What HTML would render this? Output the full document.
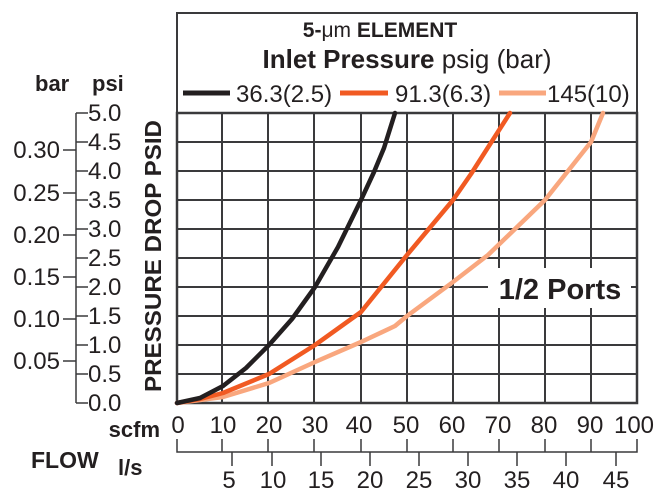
<!DOCTYPE html><html><head><style>body{margin:0;background:#fff}svg{display:block}text{font-family:"Liberation Sans",Arial,sans-serif;fill:#231f20}</style></head><body>
<svg width="666" height="502" viewBox="0 0 666 502">
<rect x="177" y="13" width="460" height="100" fill="none" stroke="#3a3a3c" stroke-width="2"/>
<text x="380" y="37" font-size="21" text-anchor="middle"><tspan font-weight="bold">5-</tspan>μm <tspan font-weight="bold">ELEMENT</tspan></text>
<text x="407" y="68" font-size="26" text-anchor="middle"><tspan font-weight="bold">Inlet Pressure</tspan> psig (bar)</text>
<line x1="183" y1="93" x2="230" y2="93" stroke="#231f20" stroke-width="5"/>
<text x="236" y="102" font-size="24">36.3(2.5)</text>
<line x1="340" y1="93" x2="388" y2="93" stroke="#f15a22" stroke-width="5"/>
<text x="395" y="102" font-size="24">91.3(6.3)</text>
<line x1="499" y1="93" x2="546" y2="93" stroke="#f9a77e" stroke-width="5"/>
<text x="547" y="102" font-size="24">145(10)</text>
<g stroke="#3a3a3c" stroke-width="2" fill="none">
<path d="M222 113V403M268 113V403M314 113V403M361 113V403M407 113V403M453 113V403M499 113V403M545 113V403M591 113V403"/>
<path d="M177 142H637M177 171H637M177 200H637M177 229H637M177 258H637M177 287H637M177 316H637M177 345H637M177 374H637"/>
<rect x="177" y="113" width="460" height="290" stroke-width="2.5"/>
</g>
<rect x="488" y="268" width="143" height="40" fill="#fff"/>
<text x="560" y="299" font-size="29" font-weight="bold" text-anchor="middle">1/2 Ports</text>
<g fill="none" stroke-width="4.5" stroke-linejoin="round" stroke-linecap="round">
<polyline stroke="#f9a77e" points="177,403 200,400 223,397 269,383 315,362 361,342 395,326 407,316 453,282 488,255 545,200 591,142 603,113"/>
<polyline stroke="#f15a22" points="177,403 200,399 223,393 269,374 315,345 361,312 407,255 453,200 471,174 510,113"/>
<polyline stroke="#231f20" points="177,403 200,398 223,386 246,368 269,345 292,319 315,287 338,247 361,200 374,172 384,148 395,113"/>
</g>
<text transform="translate(161,392) rotate(-90)" font-size="23.5" font-weight="bold" textLength="272" lengthAdjust="spacingAndGlyphs">PRESSURE DROP PSID</text>
<text x="35" y="91" font-size="22" font-weight="bold">bar</text>
<text x="92" y="91" font-size="22" font-weight="bold">psi</text>
<g stroke="#3a3a3c" stroke-width="1.5" fill="none">
<path d="M76 113V403M76 113H88M76 142H88M76 171H88M76 200H88M76 229H88M76 258H88M76 287H88M76 316H88M76 345H88M76 374H88M76 403H88"/>
<path d="M63 150H76M63 193H76M63 235H76M63 277H76M63 319H76M63 361H76"/>
</g>
<g font-size="24">
<text x="88" y="121">5.0</text><text x="88" y="150">4.5</text><text x="88" y="179">4.0</text><text x="88" y="208">3.5</text><text x="88" y="237">3.0</text><text x="88" y="266">2.5</text><text x="88" y="295">2.0</text><text x="88" y="324">1.5</text><text x="88" y="353">1.0</text><text x="88" y="382">0.5</text><text x="88" y="411">0.0</text>
</g>
<g font-size="24" text-anchor="end">
<text x="60" y="158">0.30</text><text x="60" y="201">0.25</text><text x="60" y="243">0.20</text><text x="60" y="285">0.15</text><text x="60" y="327">0.10</text><text x="60" y="369">0.05</text>
</g>
<text x="160" y="437" font-size="22" font-weight="bold" text-anchor="end">scfm</text>
<text x="31" y="468" font-size="23" font-weight="bold">FLOW</text>
<text x="118" y="475" font-size="22" font-weight="bold">l/s</text>
<g font-size="24" text-anchor="middle">
<text x="178" y="433">0</text><text x="223" y="433">10</text><text x="269" y="433">20</text><text x="315" y="433">30</text><text x="359" y="433">40</text><text x="406" y="433">50</text><text x="452" y="433">60</text><text x="498" y="433">70</text><text x="544" y="433">80</text><text x="590" y="433">90</text><text x="634" y="433">100</text>
<text x="229" y="488">5</text><text x="273" y="488">10</text><text x="321" y="488">15</text><text x="370" y="488">20</text><text x="419" y="488">25</text><text x="468" y="488">30</text><text x="517" y="488">35</text><text x="566" y="488">40</text><text x="616" y="488">45</text>
</g>
<g stroke="#3a3a3c" stroke-width="1.5" fill="none">
<path d="M177 439V452H637V439M222 439V452M268 439V452M314 439V452M361 439V452M407 439V452M453 439V452M499 439V452M545 439V452M591 439V452"/>
<path d="M232 452V466M272 452V466M321 452V466M370 452V466M419 452V466M468 452V466M517 452V466M566 452V466M616 452V466"/>
</g>
</svg></body></html>
